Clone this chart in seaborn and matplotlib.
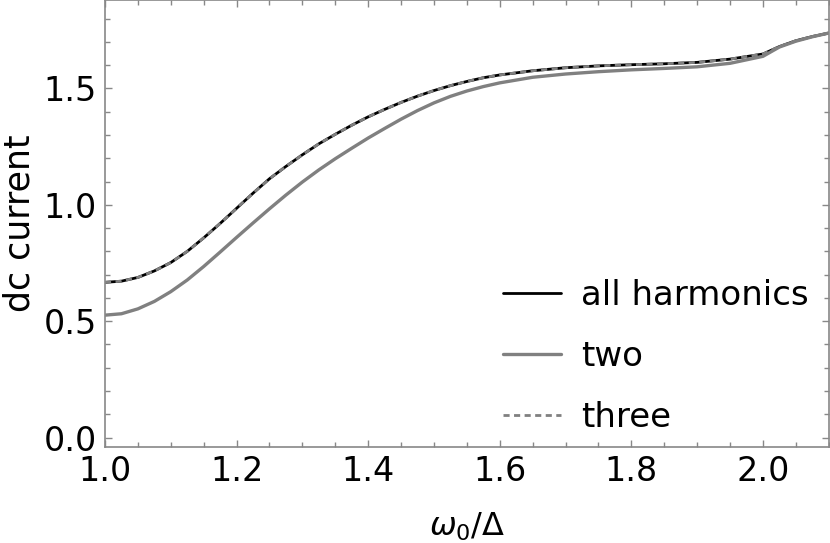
import numpy as np
import pandas as pd
import matplotlib
matplotlib.use("Agg")
import matplotlib.pyplot as plt
import seaborn as sns
from matplotlib.ticker import MultipleLocator

# omega_0 / Delta grid
w = [1.000, 1.025, 1.050, 1.075, 1.100, 1.125, 1.150, 1.175, 1.200, 1.225,
     1.250, 1.275, 1.300, 1.325, 1.350, 1.375, 1.400, 1.425, 1.450, 1.475,
     1.500, 1.525, 1.550, 1.575, 1.600, 1.650, 1.700, 1.750, 1.800, 1.850,
     1.900, 1.950, 2.000, 2.025, 2.050, 2.075, 2.100]

all_harm = [0.667, 0.672, 0.688, 0.716, 0.752, 0.800, 0.858, 0.920, 0.985, 1.050,
            1.112, 1.165, 1.215, 1.262, 1.303, 1.342, 1.378, 1.410, 1.440, 1.467,
            1.491, 1.512, 1.530, 1.546, 1.558, 1.576, 1.589, 1.597, 1.602, 1.606,
            1.612, 1.626, 1.648, 1.680, 1.705, 1.723, 1.738]

two = [0.526, 0.532, 0.553, 0.585, 0.627, 0.677, 0.735, 0.797, 0.860, 0.922,
       0.983, 1.042, 1.098, 1.150, 1.198, 1.243, 1.287, 1.328, 1.368, 1.405,
       1.438, 1.466, 1.489, 1.508, 1.524, 1.548, 1.562, 1.572, 1.580, 1.586,
       1.593, 1.608, 1.638, 1.678, 1.703, 1.722, 1.738]

three = [0.667, 0.672, 0.688, 0.716, 0.752, 0.800, 0.858, 0.920, 0.985, 1.050,
         1.112, 1.165, 1.215, 1.262, 1.303, 1.342, 1.378, 1.410, 1.440, 1.467,
         1.491, 1.512, 1.530, 1.546, 1.558, 1.576, 1.589, 1.597, 1.602, 1.606,
         1.612, 1.626, 1.648, 1.680, 1.705, 1.723, 1.738]

sns.set_style("ticks")
plt.rcParams["font.family"] = ["DejaVu Sans"]
plt.rcParams["text.color"] = "black"
plt.rcParams["axes.labelcolor"] = "black"
plt.rcParams["xtick.labelcolor"] = "black"
plt.rcParams["ytick.labelcolor"] = "black"

fig = plt.figure(figsize=(8.3, 5.43), dpi=100)
ax = fig.add_axes([0.1265, 0.177, 0.872, 0.823])

sns.lineplot(x=w, y=all_harm, ax=ax, color="black", lw=2, label="all harmonics")
sns.lineplot(x=w, y=two, ax=ax, color="#808080", lw=2.4, label="two")
sns.lineplot(x=w, y=three, ax=ax, color="#808080", lw=2, ls=(0, (2.2, 1.6)), label="three")

ax.set_xlim(1.0, 2.1)
ax.set_ylim(-0.04, 1.88)
ax.xaxis.set_major_locator(MultipleLocator(0.2))
ax.xaxis.set_minor_locator(MultipleLocator(0.05))
ax.yaxis.set_major_locator(MultipleLocator(0.5))
ax.yaxis.set_minor_locator(MultipleLocator(0.1))

for s in ax.spines.values():
    s.set_color("#888888")
    s.set_linewidth(1.2)
ax.tick_params(which="both", direction="in", top=True, right=True, color="#888888",
               labelsize=24, width=1)
ax.tick_params(which="major", length=5, pad=6)
ax.tick_params(which="minor", length=3.5)

ax.set_xlabel(r"$\omega_0/\Delta$", fontsize=23, labelpad=16)
ax.set_ylabel("dc current", fontsize=25, labelpad=5)

leg = ax.legend(loc="lower right", frameon=False, fontsize=24.5, handlelength=1.7,
                labelspacing=0.82, handletextpad=0.6, bbox_to_anchor=(1.015, -0.04))

fig.savefig("out.png", dpi=100)
